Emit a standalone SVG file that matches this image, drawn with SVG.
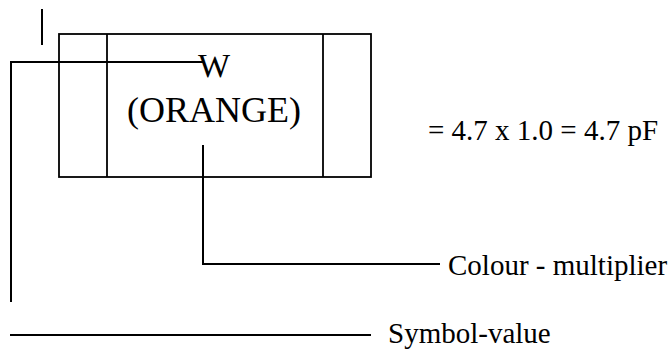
<svg xmlns="http://www.w3.org/2000/svg" width="672" height="350" viewBox="0 0 672 350">
<style>
.ln{fill:none;stroke:#000;stroke-width:2}
.bx{fill:none;stroke:#000;stroke-width:1.8}
.t{font-family:"Liberation Serif","Times New Roman",serif;fill:#000}
.lbl{font-size:29px}
</style>
<rect width="672" height="350" fill="#fff"/>
<g id="capacitor">
<rect class="bx" x="59" y="34" width="312" height="143"/>
<line class="bx" x1="107" y1="34" x2="107" y2="177"/>
<line class="bx" x1="323" y1="34" x2="323" y2="177"/>
<text class="t" x="214" y="77" font-size="34" text-anchor="middle">W</text>
<text class="t" x="214" y="122" font-size="36" text-anchor="middle">(ORANGE)</text>
</g>
<g id="equation">
<text class="t lbl" x="428" y="140">= 4.7 x 1.0 = 4.7 pF</text>
</g>
<g id="colour-label">
<text class="t lbl" x="448" y="275">Colour - multiplier</text>
</g>
<g id="symbol-label">
<text class="t lbl" x="388" y="343">Symbol-value</text>
</g>
<g id="connectors">
<line class="ln" x1="42" y1="9" x2="42" y2="45"/>
<polyline class="ln" points="203,62 11,62 11,302"/>
<polyline class="ln" points="203,145 203,264 440,264"/>
<line class="ln" x1="10" y1="335" x2="371" y2="335"/>
</g>
</svg>
